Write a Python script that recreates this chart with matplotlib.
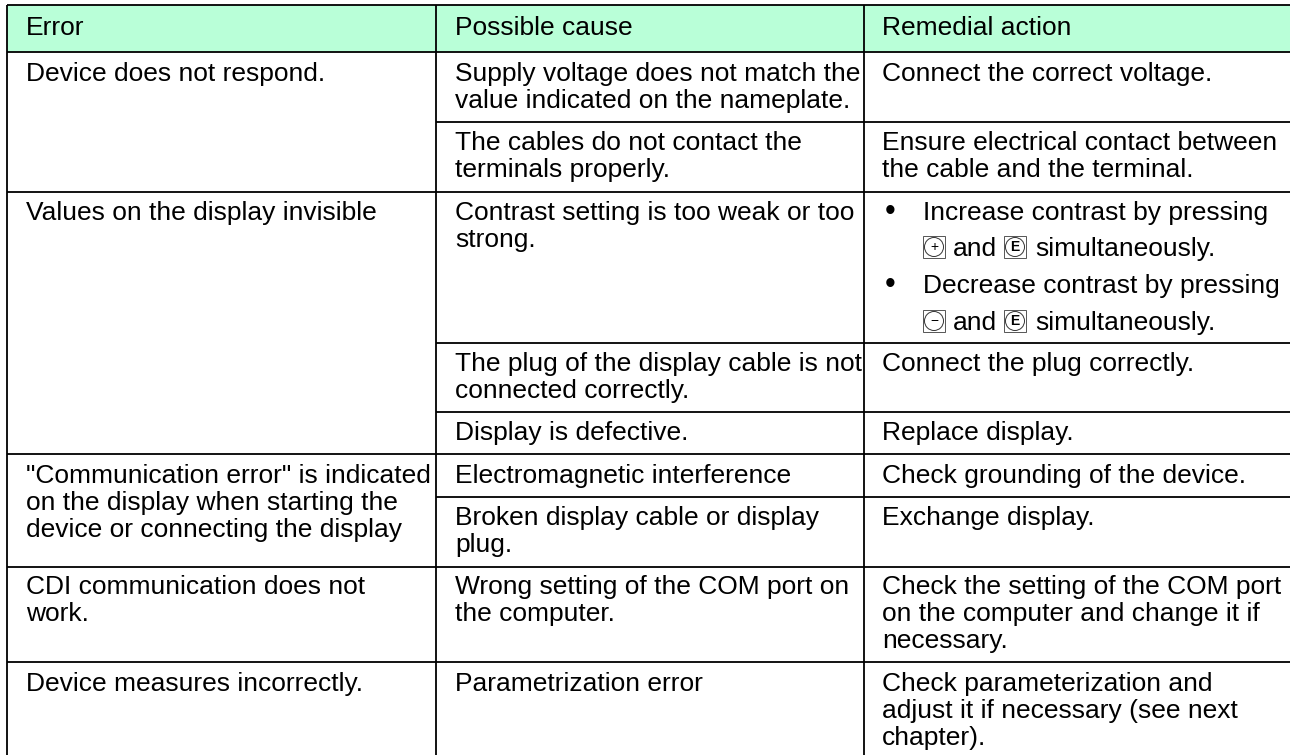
import matplotlib
matplotlib.use("Agg")
import matplotlib.pyplot as plt
from matplotlib.patches import Rectangle, Circle

W, H = 1290, 755
plt.rcParams['font.family'] = ['Liberation Sans', 'DejaVu Sans']

col_x = [7, 436, 864]
text_x = [26, 455, 882]
headers = ["Error", "Possible cause", "Remedial action"]

# (baseline y of the first line, text)
c1 = [(81, "Device does not respond."),
      (220, "Values on the display invisible"),
      (483, '"Communication error" is indicated\non the display when starting the\ndevice or connecting the display'),
      (594, "CDI communication does not\nwork."),
      (691, "Device measures incorrectly.")]
c2 = [(81, "Supply voltage does not match the\nvalue indicated on the nameplate."),
      (150, "The cables do not contact the\nterminals properly."),
      (220, "Contrast setting is too weak or too\nstrong."),
      (371, "The plug of the display cable is not\nconnected correctly."),
      (440, "Display is defective."),
      (483, "Electromagnetic interference"),
      (525, "Broken display cable or display\nplug."),
      (594, "Wrong setting of the COM port on\nthe computer."),
      (691, "Parametrization error")]
c3 = [(81, "Connect the correct voltage."),
      (150, "Ensure electrical contact between\nthe cable and the terminal."),
      (371, "Connect the plug correctly."),
      (440, "Replace display."),
      (483, "Check grounding of the device."),
      (525, "Exchange display."),
      (594, "Check the setting of the COM port\non the computer and change it if\nnecessary."),
      (691, "Check parameterization and\nadjust it if necessary (see next\nchapter).")]

bullets = [(220, "Increase contrast by pressing"), (293, "Decrease contrast by pressing")]
key_lines = [(256, "+"), (330, "\u2212")]

# horizontal rules: (y, x start)
rules = [(5, 7), (52, 7), (122, 436), (192, 7), (343, 436), (412, 436),
         (454, 7), (497, 436), (567, 7), (662, 7)]

fig = plt.figure(figsize=(W / 100, H / 100), dpi=100)
ax = fig.add_axes([0, 0, 1, 1])
ax.set_xlim(0, W)
ax.set_ylim(H, 0)
ax.axis("off")

ax.add_patch(Rectangle((7, 5), W - 7, 47, fc="#B9FFD8", ec="none", zorder=0))
for y, x0 in rules:
    ax.plot([x0, W], [y, y], color="black", lw=1.3, solid_capstyle="butt")
for x in col_x:
    ax.plot([x, x], [4.5, H], color="black", lw=1.3, solid_capstyle="butt")

FS = 19.0
STEP = 27.2


def put(x, y, s):
    for i, line in enumerate(s.split("\n")):
        ax.text(x, y + i * STEP, line, fontsize=FS, va="baseline", ha="left", color="black")


for x, s in zip(text_x, headers):
    put(x, 35, s)
for x, col in zip(text_x, (c1, c2, c3)):
    for y, s in col:
        put(x, y, s)


def key(x, base, sym):
    y = base - 20
    ax.add_patch(Rectangle((x, y), 22, 22, fc="white", ec="#555555", lw=0.7))
    ax.add_patch(Circle((x + 11, y + 11), 9.5, fc="white", ec="#333333", lw=0.7))
    ax.text(x + 11, y + 11, sym, fontsize=10, ha="center", va="center",
            fontweight="bold" if sym == "E" else "normal")


for y, s in bullets:
    ax.text(890, y - 8, "\u2022", fontsize=FS + 3, ha="center", va="center")
    put(923, y, s)
for y, sym in key_lines:
    key(923, y, sym)
    put(953, y, "and")
    key(1004, y, "E")
    put(1035, y, "simultaneously.")

fig.savefig("out.png", dpi=100)
